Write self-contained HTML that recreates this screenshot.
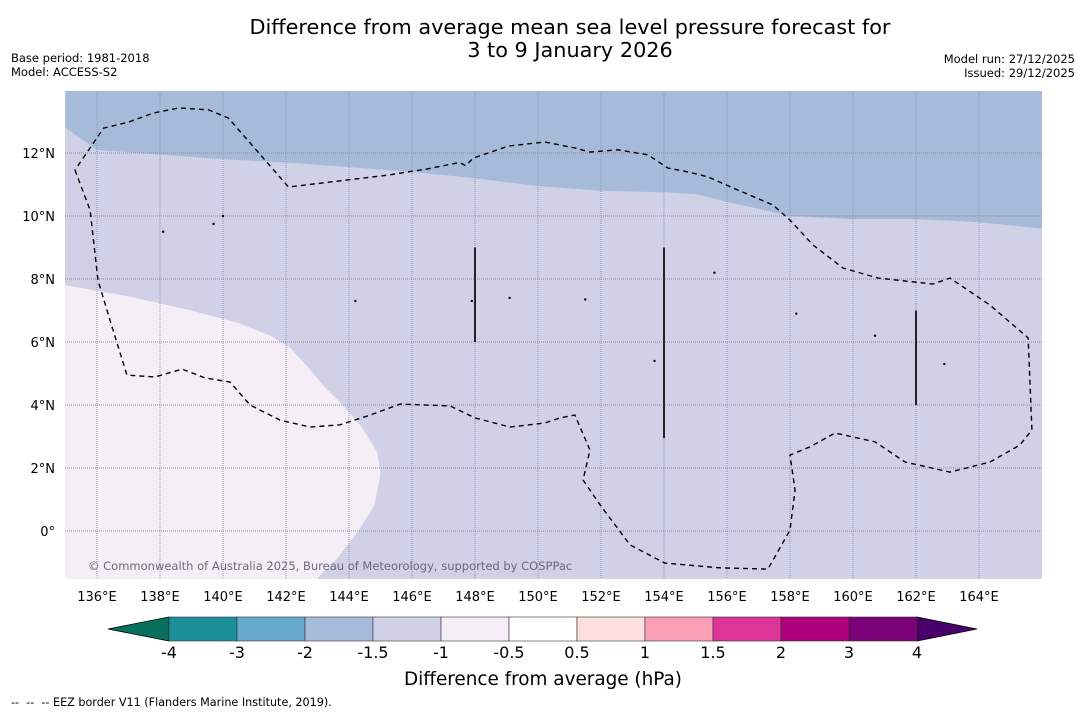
<!DOCTYPE html>
<html><head><meta charset="utf-8"><style>
body{margin:0;background:#fff;width:1085px;height:713px;overflow:hidden;font-family:"DejaVu Sans","Liberation Sans",sans-serif;}
</style></head><body>
<svg id="chart" width="1085" height="713" viewBox="0 0 1085 713" xmlns="http://www.w3.org/2000/svg" font-family="DejaVu Sans, Liberation Sans, sans-serif">
<text x="570" y="34" font-size="20.8" text-anchor="middle">Difference from average mean sea level pressure forecast for</text>
<text x="570" y="57" font-size="20.8" text-anchor="middle">3 to 9 January 2026</text>
<text x="11" y="62" font-size="11.5">Base period: 1981-2018</text>
<text x="11" y="76" font-size="11.5">Model: ACCESS-S2</text>
<text x="1075" y="63" font-size="11.5" text-anchor="end">Model run: 27/12/2025</text>
<text x="1075" y="77" font-size="11.5" text-anchor="end">Issued: 29/12/2025</text>
<defs><clipPath id="mapclip"><rect x="65" y="91" width="977" height="488"/></clipPath></defs>
<g id="map" clip-path="url(#mapclip)"></g>
<g id="axes"></g>
<g id="cbar"></g>
<text x="543" y="685" font-size="18.4" text-anchor="middle">Difference from average (hPa)</text>
<text x="11" y="706" font-size="11.2" xml:space="preserve">--  --  -- EEZ border V11 (Flanders Marine Institute, 2019).</text>
</svg>
<script>
const lonTicks=[136,138,140,142,144,146,148,150,152,154,156,158,160,162,164];
const latTicks=[0,2,4,6,8,10,12];
const blueEdge=[[135,12.8],[136,12.1],[138,11.95],[140,11.8],[142,11.7],[144,11.55],[146,11.4],[148,11.2],[150,10.95],[152,10.8],[154,10.75],[155,10.7],[156,10.45],[158,10.0],[160,9.9],[162,9.9],[164,9.8],[166,9.6]];
const pinkEdge=[[135,7.8],[137,7.45],[139,7.0],[140.5,6.6],[141.5,6.2],[142.1,5.85],[142.7,5.2],[143.2,4.6],[143.8,4.0],[144.4,3.3],[144.9,2.5],[145.0,1.8],[144.8,0.8],[144.3,0.0],[143.6,-0.9],[142.9,-1.6]];
const eezLon=[135.3,135.78,136.03,136.41,136.95,137.84,138.7,139.43,140.22,140.86,141.81,142.76,143.71,144.67,145.62,147.21,148.0,149.11,150.22,150.7,151.17,151.65,151.43,151.97,152.92,154.03,155.78,157.3,158.0,158.16,158.0,158.63,159.43,160.7,161.65,163.08,164.35,165.3,165.68,165.56,164.35,163.08,162.54,160.79,159.68,158.73,158.0,157.46,156.19,155.4,154.76,154.13,153.49,152.54,151.65,151.17,150.22,149.06,147.95,147.7,147.5,146.52,145.25,142.08,140.17,139.54,138.59,137.79,137.0,136.21,135.3];
const eezLat=[11.46,10.19,7.97,6.7,4.95,4.89,5.14,4.86,4.73,4.0,3.52,3.3,3.37,3.68,4.03,3.97,3.59,3.3,3.43,3.59,3.68,2.57,1.62,0.83,-0.44,-1.02,-1.17,-1.21,0.03,1.3,2.41,2.67,3.11,2.83,2.19,1.87,2.19,2.73,3.21,6.13,7.17,8.03,7.84,8.03,8.35,9.08,9.87,10.35,10.89,11.24,11.4,11.52,11.94,12.1,12.03,12.16,12.35,12.22,11.84,11.6,11.7,11.5,11.3,10.92,13.11,13.37,13.43,13.27,12.98,12.79,11.46];
const segLon=[148,154,162];
const segLat0=[9,9,7];
const segLat1=[6,2.95,4];
const islandLon=[138.1,144.2,147.9,149.1,151.5,153.7,155.6,158.2,160.7,162.9,140.0,139.7];
const islandLat=[9.5,7.3,7.3,7.4,7.35,5.4,8.2,6.9,6.2,5.3,10.0,9.75];
const cbBounds=[-4,-3,-2,-1.5,-1,-0.5,0.5,1,1.5,2,3,4];
const cbLabels=["-4","-3","-2","-1.5","-1","-0.5","0.5","1","1.5","2","3","4"];
const cbColors=["#1b8f98","#67a9cf","#a6bbd9","#d0d1e6","#f5eef6","#ffffff","#fde0dd","#fa9fb5","#dd3497","#ae017e","#7a0177"];
const cbLow="#07705f", cbHigh="#49006a";
const NS="http://www.w3.org/2000/svg";
const X=lon=>65.5+(lon-135)*31.5;
const Y=lat=>531-lat*31.5;
function mk(tag,attrs,parent){const e=document.createElementNS(NS,tag);for(const k in attrs)e.setAttribute(k,attrs[k]);parent.appendChild(e);return e;}
const map=document.getElementById('map'),axes=document.getElementById('axes'),cbar=document.getElementById('cbar');
let r=mk('rect',{x:65,y:91,width:977,height:488,fill:'#d0d1e6'},map);


let d='M'+X(135)+','+Y(15)+' '+blueEdge.map(p=>'L'+X(p[0])+','+Y(p[1])).join(' ')+' L'+X(166)+','+Y(15)+'Z';
let p=mk('path',{d:d,fill:'#a6bbd9'},map);


d='M'+X(134)+','+Y(7.8)+' '+pinkEdge.map(q=>'L'+X(q[0])+','+Y(q[1])).join(' ')+' L'+X(134)+','+Y(-2)+'Z';
p=mk('path',{d:d,fill:'#f5eef6'},map);


lonTicks.forEach(l=>{const g=mk('line',{x1:X(l),x2:X(l),y1:91,y2:579,stroke:'#8a95b5','stroke-width':1,'stroke-dasharray':'1,1'},map);


const t=mk('text',{x:X(l),y:601,'font-size':13,'text-anchor':'middle'},axes);t.textContent=l+'°E';

});
latTicks.forEach(l=>{const g=mk('line',{x1:65,x2:1042,y1:Y(l),y2:Y(l),stroke:'#8a8aa0','stroke-width':1,'stroke-dasharray':'1,1'},map);


const t=mk('text',{x:55,y:Y(l)+5,'font-size':13,'text-anchor':'end'},axes);t.textContent=l===0?'0°':l+'°N';

});
d=eezLon.map((l,i)=>(i?'L':'M')+X(l)+','+Y(eezLat[i])).join(' ');
p=mk('path',{d:d,fill:'none',stroke:'#000','stroke-width':1.4,'stroke-dasharray':'5,4'},map);


segLon.forEach((l,i)=>{const s=mk('line',{x1:X(l),x2:X(l),y1:Y(segLat0[i]),y2:Y(segLat1[i]),stroke:'#222','stroke-width':2},map);

});
islandLon.forEach((l,i)=>{const c=mk('circle',{cx:X(l),cy:Y(islandLat[i]),r:1.2,fill:'#000'},map);

});
const cp=mk('text',{x:88,y:570,'font-size':11.5,fill:'#6a6a7a'},map);cp.textContent='© Commonwealth of Australia 2025, Bureau of Meteorology, supported by COSPPac';


const cbX0=169,cbW=68,cbY=617,cbH=24;
const CX=i=>cbX0+i*cbW;
let tri=mk('polygon',{points:`${CX(0)},${cbY} ${108},${cbY+cbH/2} ${CX(0)},${cbY+cbH}`,fill:cbLow,stroke:'#000','stroke-width':0.8},cbar);


const n=cbColors.length;
tri=mk('polygon',{points:`${CX(n)},${cbY} ${977},${cbY+cbH/2} ${CX(n)},${cbY+cbH}`,fill:cbHigh,stroke:'#000','stroke-width':0.8},cbar);


cbColors.forEach((c,i)=>{const b=mk('rect',{x:CX(i),y:cbY,width:cbW,height:cbH,fill:c,stroke:'#333','stroke-width':0.6},cbar);

});
cbBounds.forEach((v,i)=>{const t=mk('text',{x:CX(i),y:658,'font-size':16,'text-anchor':'middle'},cbar);t.textContent=cbLabels[i];

});
</script>
</body></html>
